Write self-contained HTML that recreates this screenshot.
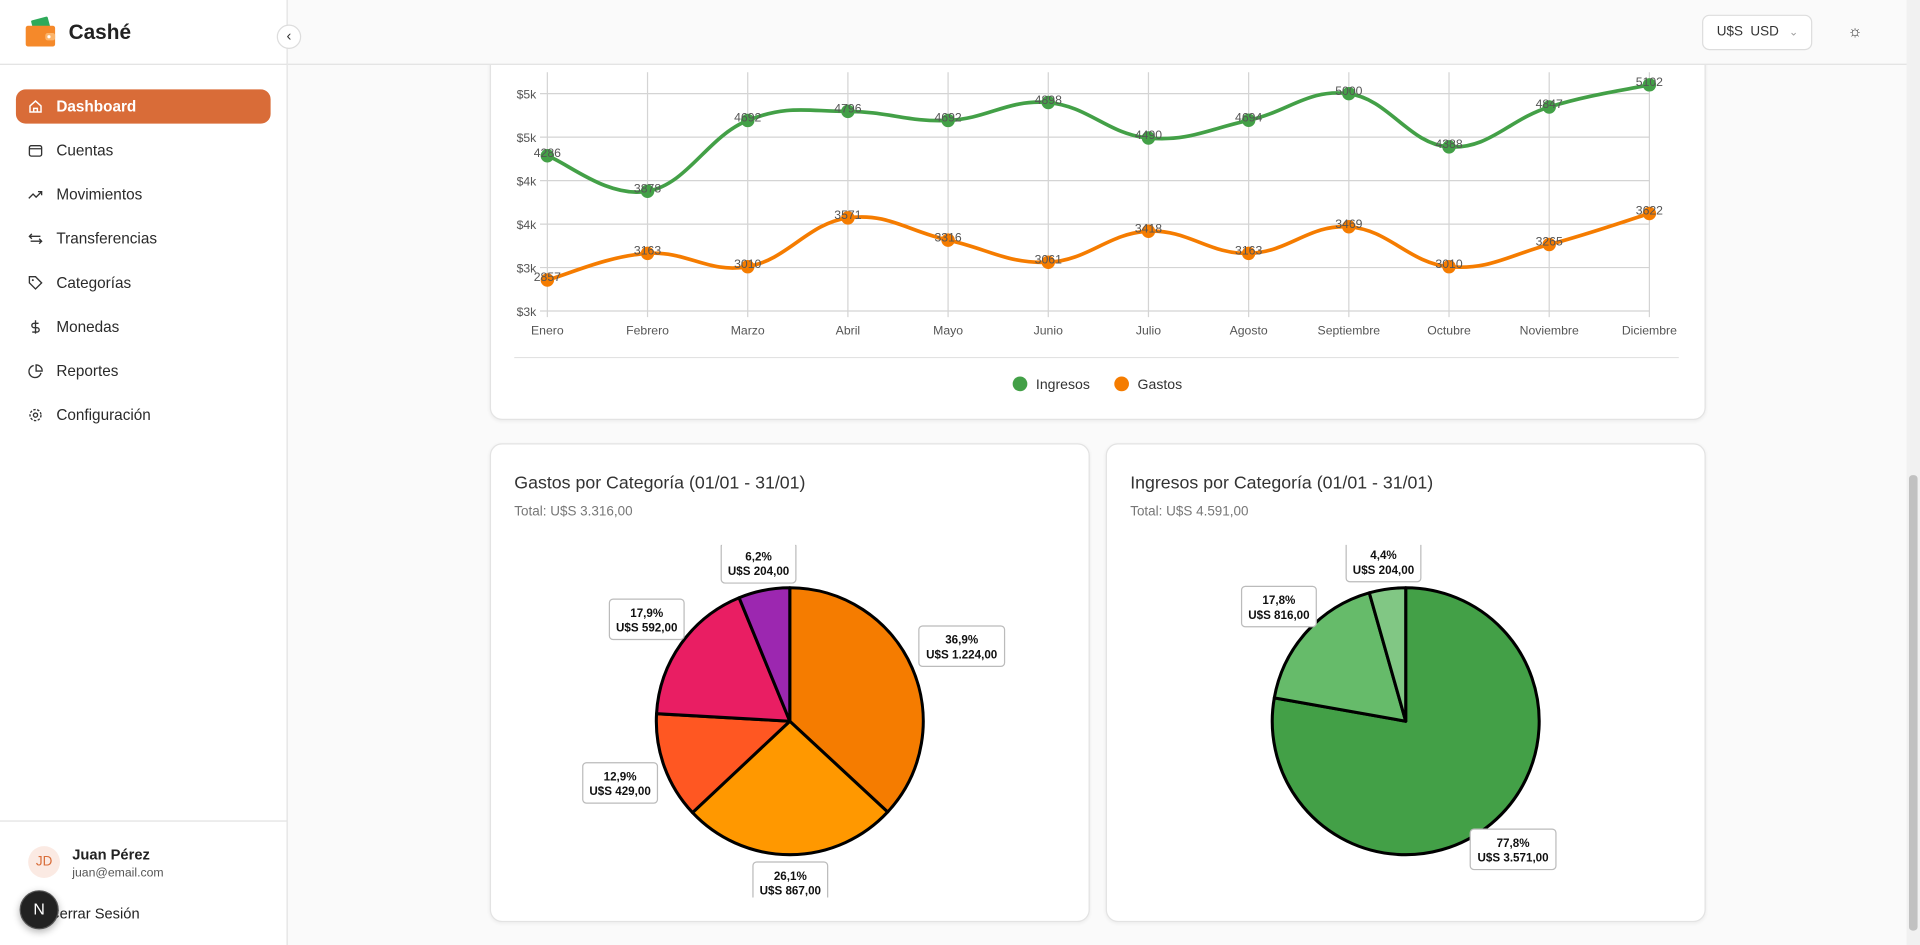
<!DOCTYPE html>
<html><head><meta charset="utf-8">
<style>
html,body{margin:0;padding:0;width:1920px;height:945px;overflow:hidden;background:#fafafa;font-family:"Liberation Sans",sans-serif;}
#root{position:absolute;left:0;top:0;width:1568px;height:772px;transform:scale(1.22449);transform-origin:0 0;background:#fafafa;}
.abs{position:absolute;}
.nav{position:absolute;left:13px;width:208px;height:28px;border-radius:8px;color:#2a2a2a;font-size:12.5px;line-height:28px;}
.nav span{position:absolute;left:33px;}
.nav svg{position:absolute;left:10px;top:8px;}
.card{position:absolute;background:#fff;border:1px solid #e3e3e3;border-radius:10px;box-shadow:0 1px 3px rgba(0,0,0,0.06);}
</style></head><body>
<div id="root">
 <div class="abs" style="left:0;top:0;width:234px;height:772px;background:#fff;border-right:1px solid #e2e2e2;z-index:10;">
  <div class="abs" style="left:0;top:52px;width:234px;height:1px;background:#e2e2e2;"></div>
  <svg class="abs" style="left:20px;top:13px" width="26" height="26" viewBox="0 0 26 26"><rect x="6" y="2" width="14" height="9" rx="1" fill="#2eaa5a" transform="rotate(-15 13 6)"/><rect x="1" y="8" width="24" height="17" rx="2" fill="#f5892a"/><rect x="17" y="14" width="8" height="6" rx="2" fill="#fbb46b"/><circle cx="20" cy="17" r="1.3" fill="#fff"/></svg>
  <div class="abs" style="left:56px;top:17px;font-size:17px;font-weight:bold;color:#222;">Cashé</div>
  <div class="abs" style="left:226px;top:20px;width:18px;height:18px;border-radius:50%;background:#fff;border:1px solid #ddd;font-size:12px;line-height:17px;text-align:center;color:#333;">‹</div>
  <div class="nav" style="top:73px;background:#d96c38;color:#fff;font-weight:bold;"><svg width="12" height="12" viewBox="0 0 12 12"><path d="M1.5 5.5L6 1.5l4.5 4v5h-9z M4.5 10.5v-3h3v3" fill="none" stroke="#fff" stroke-width="1.2"/></svg><span>Dashboard</span></div>
  <div class="nav" style="top:109px;"><svg width="12" height="12" viewBox="0 0 12 12"><rect x="1" y="2" width="10" height="8.5" rx="1.5" fill="none" stroke="#333" stroke-width="1.1"/><path d="M1 4.5h10" stroke="#333"/></svg><span>Cuentas</span></div>
  <div class="nav" style="top:145px;"><svg width="12" height="12" viewBox="0 0 12 12"><path d="M0.5 9l3.5-3.5 2.5 2.5 4.5-4.5M8 3.5h3v3" fill="none" stroke="#333" stroke-width="1.1"/></svg><span>Movimientos</span></div>
  <div class="nav" style="top:181px;"><svg width="12" height="12" viewBox="0 0 12 12"><path d="M1 4h9M3 2L1 4l2 2M11 8H2M9 6l2 2-2 2" fill="none" stroke="#333" stroke-width="1.1"/></svg><span>Transferencias</span></div>
  <div class="nav" style="top:217px;"><svg width="12" height="12" viewBox="0 0 12 12"><path d="M1 1h5l5 5-5 5-5-5z" fill="none" stroke="#333" stroke-width="1.1"/><circle cx="3.8" cy="3.8" r="0.8" fill="#333"/></svg><span>Categorías</span></div>
  <div class="nav" style="top:253px;"><svg width="12" height="12" viewBox="0 0 12 12"><path d="M6 0.5v11M8.5 3H4.8a1.8 1.8 0 000 3.6h2.4a1.8 1.8 0 010 3.6H3.3" fill="none" stroke="#333" stroke-width="1.1"/></svg><span>Monedas</span></div>
  <div class="nav" style="top:289px;"><svg width="12" height="12" viewBox="0 0 12 12"><path d="M10.5 7.5A5 5 0 114.5 1.5M6.5 1v5h5A5 5 0 006.5 1z" fill="none" stroke="#333" stroke-width="1.1"/></svg><span>Reportes</span></div>
  <div class="nav" style="top:325px;"><svg width="12" height="12" viewBox="0 0 12 12"><circle cx="6" cy="6" r="4.5" fill="none" stroke="#333" stroke-width="1.1" stroke-dasharray="2 1.2"/><circle cx="6" cy="6" r="1.7" fill="none" stroke="#333" stroke-width="1.1"/></svg><span>Configuración</span></div>
  <div class="abs" style="left:0;top:670px;width:234px;height:1px;background:#e2e2e2;"></div>
  <div class="abs" style="left:23px;top:691px;width:26px;height:26px;border-radius:50%;background:#fbeae3;color:#d96c38;font-size:11px;line-height:26px;text-align:center;">JD</div>
  <div class="abs" style="left:59px;top:691px;font-size:12px;font-weight:bold;color:#222;">Juan Pérez</div>
  <div class="abs" style="left:59px;top:708px;font-size:10px;color:#555;">juan@email.com</div>
  <div class="abs" style="left:40px;top:739px;font-size:12px;color:#222;">Cerrar Sesión</div>
  <div class="abs" style="left:16px;top:727px;width:30px;height:30px;border-radius:50%;background:#222;border:1px solid #555;color:#fff;font-size:13px;line-height:30px;text-align:center;box-shadow:0 2px 6px rgba(0,0,0,0.3);">N</div>
 </div>
 <div class="abs" style="left:235px;top:0;width:1322px;height:52px;background:#fafafa;border-bottom:1px solid #e2e2e2;z-index:5;">
  <div class="abs" style="left:1155px;top:12px;width:88px;height:27px;border:1px solid #ddd;border-radius:6px;background:#fff;font-size:11px;line-height:27px;color:#333;"><span style="position:absolute;left:11px;">U$S&nbsp; USD</span><span style="position:absolute;left:70px;color:#999;font-size:9px;">⌄</span></div>
  <div class="abs" style="left:1272px;top:18px;width:16px;height:16px;font-size:13px;line-height:16px;text-align:center;color:#333;">☼</div>
 </div>
 <div class="abs" style="left:1557px;top:0;width:11px;height:772px;background:#f1f1f1;"></div>
 <div class="abs" style="left:1559px;top:388px;width:7px;height:372px;background:#c1c1c1;border-radius:3px;"></div>
 <div class="card" style="left:400px;top:-20px;width:991px;height:361px;"></div>
 <svg id="line" class="abs" style="left:0;top:0" width="1557" height="345"></svg>
 <div class="card" style="left:400px;top:362px;width:488px;height:389px;">
  <div class="abs" style="left:19px;top:24px;font-size:14.5px;color:#333;">Gastos por Categoría (01/01 - 31/01)</div>
  <div class="abs" style="left:19px;top:49px;font-size:11px;color:#777;">Total: U$S 3.316,00</div>
 </div>
 <div class="card" style="left:903px;top:362px;width:488px;height:389px;">
  <div class="abs" style="left:19px;top:24px;font-size:14.5px;color:#333;">Ingresos por Categoría (01/01 - 31/01)</div>
  <div class="abs" style="left:19px;top:49px;font-size:11px;color:#777;">Total: U$S 4.591,00</div>
 </div>
 <svg id="pies" class="abs" style="left:0;top:0" width="1557" height="772"></svg>
</div>
<script>
const months = ["Enero","Febrero","Marzo","Abril","Mayo","Junio","Julio","Agosto","Septiembre","Octubre","Noviembre","Diciembre"];
const ingresos = [4286,3878,4692,4796,4692,4898,4490,4694,5000,4388,4847,5102];
const gastos = [2857,3163,3010,3571,3316,3061,3418,3163,3469,3010,3265,3622];
const yTicks = [2500,3000,3500,4000,4500,5000];
const yTickLabels = ["$3k","$3k","$4k","$4k","$5k","$5k"];
const gastosPct = [36.9,26.1,12.9,17.9,6.2];
const gastosAmt = ["U$S 1.224,00","U$S 867,00","U$S 429,00","U$S 592,00","U$S 204,00"];
const gastosColors = ["#f57c00","#ff9800","#ff5722","#e91e63","#9c27b0"];
const ingresosPct = [77.8,17.8,4.4];
const ingresosAmt = ["U$S 3.571,00","U$S 816,00","U$S 204,00"];
const ingresosColors = ["#43a047","#66bb6a","#81c784"];

const NS="http://www.w3.org/2000/svg";
function mk(parent,tag,attrs,text){const e=document.createElementNS(NS,tag);for(const k in attrs)e.setAttribute(k,attrs[k]);if(text!==undefined)e.textContent=text;parent.appendChild(e);return e;}

const L=document.getElementById('line');
const x0=447,x1=1347,yMin=2500,yMax=5000,yB=254,yT=76.5;
const xs=i=>x0+(x1-x0)*i/(months.length-1);
const ys=v=>yB-(v-yMin)/(yMax-yMin)*(yB-yT);
const clip=mk(L,'defs',{});
const cp=mk(clip,'clipPath',{id:'lc'});mk(cp,'rect',{x:380,y:59,width:1020,height:300});
const g=mk(L,'g',{'clip-path':'url(#lc)'});


months.forEach((m,i)=>{
 const l=mk(g,'line',{x1:xs(i),x2:xs(i),y1:40,y2:yB+5,stroke:'#d4d4d4','stroke-width':1});
 
 
 const t=mk(g,'text',{x:xs(i),y:yB+19,'text-anchor':'middle','font-size':10,fill:'#555'},m);
 
 
});
yTicks.forEach((v,i)=>{
 const l=mk(g,'line',{x1:441,x2:x1,y1:ys(v),y2:ys(v),stroke:'#d4d4d4','stroke-width':1});
 
 
 const t=mk(g,'text',{x:438,y:ys(v)+4,'text-anchor':'end','font-size':10,fill:'#555'},yTickLabels[i]);
 
 
});
function path(vals){
 const p=vals.map((v,i)=>[xs(i),ys(v)]);let d=`M${p[0][0]},${p[0][1]}`;
 for(let i=0;i<p.length-1;i++){
  const a=p[Math.max(0,i-1)],b=p[i],c=p[i+1],e=p[Math.min(p.length-1,i+2)],t=0.2;
  d+=` C${b[0]+(c[0]-a[0])*t},${b[1]+(c[1]-a[1])*t} ${c[0]-(e[0]-b[0])*t},${c[1]-(e[1]-b[1])*t} ${c[0]},${c[1]}`;
 }return d;}
[[ingresos,'#43a047','ingresos'],[gastos,'#f57c00','gastos']].forEach(([vals,col,nm])=>{
 const pth=mk(g,'path',{d:path(vals),fill:'none',stroke:col,'stroke-width':3});
 
 
 vals.forEach((v,i)=>{
  const c=mk(g,'circle',{cx:xs(i),cy:ys(v),r:5.5,fill:col});
  
  
  const t=mk(g,'text',{x:xs(i),y:ys(v)+1,'text-anchor':'middle','font-size':10,fill:'#555'},String(v));
  
  
 });
});
const sep=mk(L,'line',{x1:420,x2:1371,y1:292,y2:292,stroke:'#e2e2e2'});


[[833,'#43a047','Ingresos'],[916,'#f57c00','Gastos']].forEach(([x,c,t])=>{
 const cc=mk(L,'circle',{cx:x,cy:313.5,r:6,fill:c});
 
 
 const tt=mk(L,'text',{x:x+13,y:317.5,'font-size':11.5,fill:'#333'},t);
 
 
});

const P=document.getElementById('pies');
const pd=mk(P,'defs',{});
const pc=mk(pd,'clipPath',{id:'pc'});mk(pc,'rect',{x:400,y:445,width:990,height:288});
function pie(cx,cy,r,pcts,amts,cols,nm){
 const grp=mk(P,'g',{'clip-path':'url(#pc)'});
 
 
 const tot=pcts.reduce((a,b)=>a+b,0);let a0=-Math.PI/2;const mids=[];
 pcts.forEach((p,i)=>{
  const a1=a0+p/tot*2*Math.PI;const large=(a1-a0)>Math.PI?1:0;
  const d=`M${cx},${cy} L${cx+r*Math.cos(a0)},${cy+r*Math.sin(a0)} A${r},${r} 0 ${large} 1 ${cx+r*Math.cos(a1)},${cy+r*Math.sin(a1)} Z`;
  const s=mk(grp,'path',{d:d,fill:cols[i],stroke:'#000','stroke-width':2.5,'stroke-linejoin':'round'});
  
  
  mids.push((a0+a1)/2);a0=a1;
 });
 pcts.forEach((p,i)=>{
  const w=amts[i].length>=12?70:61,h=33;
  const c=Math.cos(mids[i]),s=Math.sin(mids[i]);
  const edge=Math.min(Math.abs(c)>1e-6?w/2/Math.abs(c):1e9,Math.abs(s)>1e-6?h/2/Math.abs(s):1e9);
  const lr=r+6+edge,lx=cx+lr*c,ly=cy+lr*s;
  const b=mk(grp,'rect',{x:lx-w/2,y:ly-h/2,width:w,height:h,rx:3,fill:'#fff',stroke:'#bbb'});
  
  
  const t1=mk(grp,'text',{x:lx,y:ly-2,'text-anchor':'middle','font-size':9.5,'font-weight':'bold',fill:'#111'},p.toFixed(1).replace('.',',')+'%');
  
  
  const t2=mk(grp,'text',{x:lx,y:ly+10,'text-anchor':'middle','font-size':9.5,'font-weight':'bold',fill:'#111'},amts[i]);
  
  
 });
}
pie(645,589,109,gastosPct,gastosAmt,gastosColors,'expenses');
pie(1148,589,109,ingresosPct,ingresosAmt,ingresosColors,'income');
</script>
</body></html>
